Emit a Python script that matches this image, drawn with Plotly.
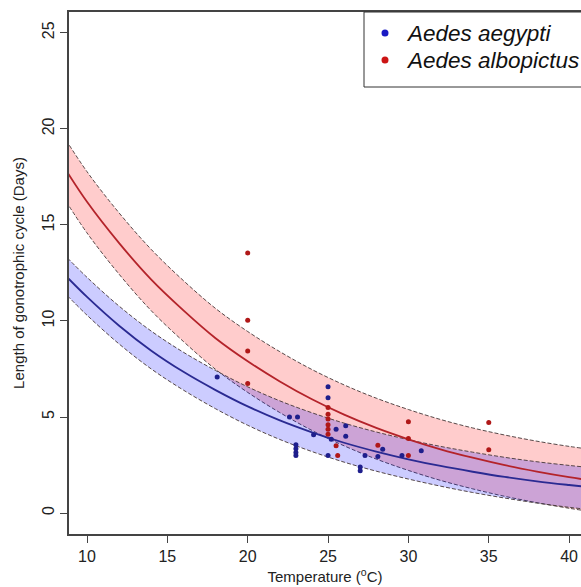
import plotly.graph_objects as go

# ---------------- data ----------------
curve_x = [8.5, 10, 12, 14, 16, 18, 20, 22, 24, 26, 28, 30, 32, 34, 36, 38, 40, 41.5]

red_mean = [18.1, 16.2, 14.05, 12.15, 10.55, 9.1, 7.9, 6.85, 5.92, 5.12, 4.43, 3.84, 3.32, 2.88, 2.49, 2.16, 1.87, 1.68]
red_upper = [19.67, 17.77, 15.62, 13.72, 12.1, 10.65, 9.45, 8.4, 7.47, 6.67, 5.98, 5.39, 4.87, 4.43, 4.06, 3.74, 3.47, 3.3]
red_lower = [16.48, 14.58, 12.43, 10.53, 8.93, 7.48, 6.28, 5.23, 4.3, 3.5, 2.81, 2.22, 1.7, 1.26, 0.87, 0.54, 0.25, 0.06]

blue_mean = [12.5, 11.25, 9.75, 8.45, 7.35, 6.4, 5.55, 4.82, 4.2, 3.66, 3.2, 2.8, 2.45, 2.15, 1.88, 1.65, 1.46, 1.33]
blue_upper = [13.52, 12.27, 10.77, 9.47, 8.37, 7.42, 6.57, 5.84, 5.22, 4.68, 4.22, 3.82, 3.47, 3.17, 2.9, 2.67, 2.48, 2.35]
blue_lower = [11.55, 10.3, 8.8, 7.5, 6.4, 5.43, 4.57, 3.83, 3.2, 2.65, 2.18, 1.77, 1.4, 1.07, 0.78, 0.52, 0.3, 0.16]

aegypti_temp = [18.1, 22.6, 23.1, 23.0, 23.0, 23.0, 23.0, 24.1, 25.0, 25.0, 25.2, 25.0, 25.5, 26.1, 26.1,
                27.0, 27.0, 27.3, 28.1, 28.4, 29.6, 30.8]
aegypti_days = [7.08, 5.0, 5.0, 3.55, 3.35, 3.15, 3.0, 4.07, 6.58, 6.0, 3.84, 3.0, 4.36, 4.54, 4.0,
                2.4, 2.2, 3.0, 2.94, 3.32, 3.0, 3.24]

albopictus_temp = [20, 20, 20, 20, 25, 25, 25, 25, 25, 25, 25.5, 25.6, 28.1, 30, 30, 30, 35, 35]
albopictus_days = [13.54, 10.03, 8.43, 6.75, 5.49, 5.14, 4.9, 4.6, 4.36, 4.1, 3.5, 3.0, 3.53, 4.75, 3.88, 3.0, 4.71, 3.29]

legend_labels = ["Aedes aegypti", "Aedes albopictus"]
x_ticks = [10, 15, 20, 25, 30, 35, 40]
y_ticks = [0, 5, 10, 15, 20, 25]

# ---------------- styles ----------------
RED_FILL = "rgba(255,0,0,0.2)"
BLUE_FILL = "rgba(0,0,255,0.2)"
EDGE = dict(color="rgba(70,55,55,0.9)", width=1, dash="4px,2px", shape="spline")
FONT = "Liberation Sans, Arial, sans-serif"

fig = go.Figure()

# red band (albopictus)
fig.add_trace(go.Scatter(x=curve_x, y=red_lower, mode="lines", line=EDGE, showlegend=False, hoverinfo="skip"))
fig.add_trace(go.Scatter(x=curve_x, y=red_upper, mode="lines", line=EDGE, fill="tonexty",
                         fillcolor=RED_FILL, showlegend=False, hoverinfo="skip"))
# blue band (aegypti)
fig.add_trace(go.Scatter(x=curve_x, y=blue_lower, mode="lines", line=EDGE, showlegend=False, hoverinfo="skip"))
fig.add_trace(go.Scatter(x=curve_x, y=blue_upper, mode="lines", line=EDGE, fill="tonexty",
                         fillcolor=BLUE_FILL, showlegend=False, hoverinfo="skip"))
# mean curves
fig.add_trace(go.Scatter(x=curve_x, y=red_mean, mode="lines",
                         line=dict(color="#b4232a", width=1.8, shape="spline"), showlegend=False))
fig.add_trace(go.Scatter(x=curve_x, y=blue_mean, mode="lines",
                         line=dict(color="#2a2a92", width=1.8, shape="spline"), showlegend=False))
# observations
fig.add_trace(go.Scatter(x=aegypti_temp, y=aegypti_days, mode="markers", name=legend_labels[0],
                         marker=dict(color="#1e1e8c", size=5), showlegend=False))
fig.add_trace(go.Scatter(x=albopictus_temp, y=albopictus_days, mode="markers", name=legend_labels[1],
                         marker=dict(color="#b01818", size=5), showlegend=False))

# ---------------- manual legend ----------------
L, T, W, H = 69, 12, 512, 522
def px_x(p):
    return (p - L) / W
def px_y(p):
    return (T + H - p) / H

shapes = [dict(type="rect", xref="paper", yref="paper", x0=px_x(364), x1=px_x(640),
               y0=px_y(87), y1=1, line=dict(color="#333", width=1), fillcolor="white", layer="above")]
dot_cols = ["#1a1ac4", "#cc1414"]
dot_y = [33, 60]
annotations = []
for lab, c, yy in zip(legend_labels, dot_cols, dot_y):
    shapes.append(dict(type="circle", xref="paper", yref="paper", xsizemode="pixel", ysizemode="pixel",
                       xanchor=px_x(385), yanchor=px_y(yy), x0=-3.5, x1=3.5, y0=-3.5, y1=3.5,
                       fillcolor=c, line=dict(color=c, width=0), layer="above"))
    annotations.append(dict(xref="paper", yref="paper", x=px_x(404), y=px_y(yy), xanchor="left",
                            yanchor="middle", showarrow=False, text="<i>%s</i>" % lab,
                            font=dict(family=FONT, size=22.5, color="#111")))

fig.update_layout(
    width=581, height=587,
    margin=dict(l=L, r=0, t=T, b=587 - T - H, autoexpand=False),
    paper_bgcolor="white", plot_bgcolor="white",
    shapes=shapes, annotations=annotations,
    font=dict(family=FONT, color="#222"),
)
fig.update_xaxes(range=[8.88, 40.74], tickvals=x_ticks, ticks="outside", ticklen=7, tickwidth=1.2,
                 tickcolor="#444", showline=True, linecolor="#444", linewidth=1.5, mirror=True,
                 showgrid=False, zeroline=False, tickfont=dict(size=16, family=FONT, color="#222"),
                 title=dict(text="Temperature (<sup>o</sup>C)", font=dict(size=15, family=FONT, color="#222"),
                            standoff=8))
fig.update_yaxes(range=[-1.09, 26.08], tickvals=y_ticks, ticks="outside", ticklen=7, tickwidth=1.2,
                 tickcolor="#444", showline=True, linecolor="#444", linewidth=1.5, mirror=False,
                 showgrid=False, zeroline=False, tickangle=-90,
                 tickfont=dict(size=16, family=FONT, color="#222"),
                 title=dict(text="Length of gonotrophic cycle (Days)",
                            font=dict(size=15, family=FONT, color="#222"), standoff=12))

fig.write_html("out.html", config={"displayModeBar": False},
               post_script="document.body.style.margin='0px';document.body.style.overflow='hidden';")
